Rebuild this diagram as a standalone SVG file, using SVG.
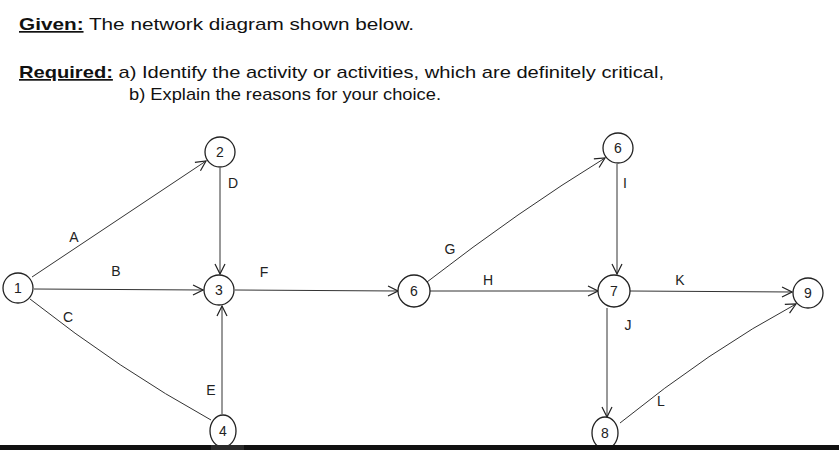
<svg xmlns="http://www.w3.org/2000/svg" width="839" height="450" viewBox="0 0 839 450">
<defs>
<marker id="ah" markerWidth="12" markerHeight="12" refX="11" refY="6" orient="auto" markerUnits="userSpaceOnUse">
<path d="M1,1 L11,6 L1,11" fill="none" stroke="#222" stroke-width="1.2"/>
</marker>
<style>
.h{font-family:"Liberation Sans",Arial,sans-serif;font-size:17px;fill:#111}
.n circle,.n ellipse{fill:#fff;stroke:#222;stroke-width:1.3}
.n text,.lb{font-family:"Liberation Sans",Arial,sans-serif;font-size:14px;fill:#222;text-anchor:middle}
.c line,.c path{stroke:#333;stroke-width:1;fill:none}
</style>
</defs>
<rect width="839" height="450" fill="#fff"/>
<text class="h" x="19" y="30" textLength="395" lengthAdjust="spacingAndGlyphs"><tspan font-weight="bold" text-decoration="underline">Given:</tspan> The network diagram shown below.</text>
<text class="h" x="19" y="78" textLength="645" lengthAdjust="spacingAndGlyphs"><tspan font-weight="bold" text-decoration="underline">Required:</tspan>  a) Identify the activity or activities, which are definitely critical,</text>
<text class="h" x="129" y="100" textLength="312" lengthAdjust="spacingAndGlyphs">b) Explain the reasons for your choice.</text>
<g class="c">
<line x1="32" y1="277" x2="206" y2="161" marker-end="url(#ah)"/>
<line x1="34" y1="289" x2="203" y2="290" marker-end="url(#ah)"/>
<path d="M30,299 Q120,370 211,420"/>
<line x1="220" y1="168" x2="220" y2="274" marker-end="url(#ah)"/>
<line x1="222" y1="414" x2="222" y2="306" marker-end="url(#ah)"/>
<line x1="235" y1="290" x2="398" y2="291" marker-end="url(#ah)"/>
<path d="M427,282 Q520,210 605,158" marker-end="url(#ah)"/>
<line x1="430" y1="291" x2="598" y2="291" marker-end="url(#ah)"/>
<line x1="617" y1="164" x2="617" y2="274" marker-end="url(#ah)"/>
<line x1="630" y1="291" x2="792" y2="292" marker-end="url(#ah)"/>
<line x1="607" y1="308" x2="607" y2="417" marker-end="url(#ah)"/>
<path d="M620,423 Q710,350 796,304" marker-end="url(#ah)"/>
</g>
<g>
<text class="lb" x="74" y="242">A</text>
<text class="lb" x="116" y="276">B</text>
<text class="lb" x="68" y="322">C</text>
<text class="lb" x="233" y="188">D</text>
<text class="lb" x="211" y="395">E</text>
<text class="lb" x="264" y="277">F</text>
<text class="lb" x="450" y="254">G</text>
<text class="lb" x="488" y="285">H</text>
<text class="lb" x="625" y="188">I</text>
<text class="lb" x="628" y="330">J</text>
<text class="lb" x="680" y="285">K</text>
<text class="lb" x="661" y="406">L</text>
</g>
<g id="n1" class="n"><circle cx="18" cy="288" r="15"/><text x="18" y="293">1</text></g>
<g id="n2" class="n"><circle cx="220" cy="152" r="15"/><text x="220" y="157">2</text></g>
<g id="n3" class="n"><circle cx="219" cy="290" r="15"/><text x="219" y="295">3</text></g>
<g id="n4" class="n"><ellipse cx="223" cy="431" rx="13" ry="16"/><text x="223" y="436">4</text></g>
<g id="n6a" class="n"><circle cx="414" cy="291" r="16"/><text x="414" y="296">6</text></g>
<g id="n6" class="n"><circle cx="618" cy="148" r="15"/><text x="618" y="153">6</text></g>
<g id="n7" class="n"><circle cx="614" cy="291" r="16"/><text x="614" y="296">7</text></g>
<g id="n8" class="n"><ellipse cx="605" cy="433" rx="13" ry="16"/><text x="605" y="438">8</text></g>
<g id="n9" class="n"><circle cx="808" cy="293" r="15"/><text x="808" y="298">9</text></g>
<rect x="0" y="445" width="839" height="5" fill="#111"/>
<rect x="211" y="445" width="33" height="5" fill="#2a2a2a"/>
</svg>
